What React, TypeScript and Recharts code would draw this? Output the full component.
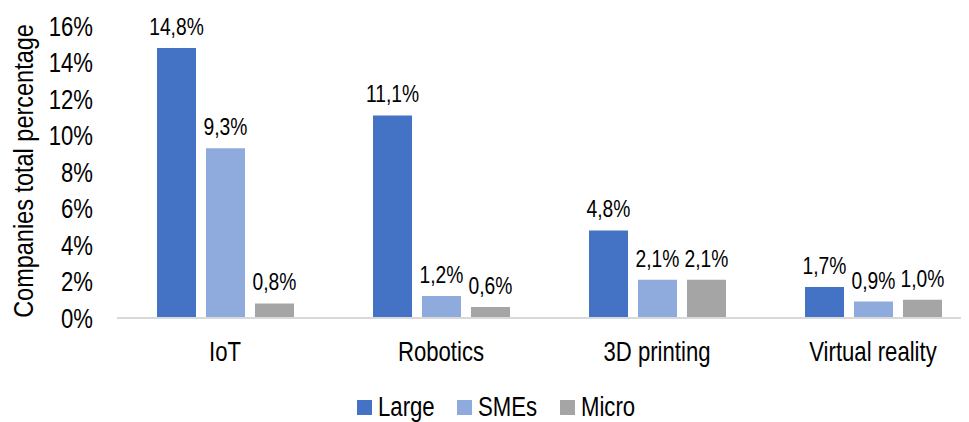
import React from 'react';
import { BarChart, Bar, XAxis, YAxis, LabelList } from 'recharts';

const categories = ['IoT', 'Robotics', '3D printing', 'Virtual reality'];
const large = [14.8, 11.1, 4.8, 1.7];
const smes = [9.3, 1.2, 2.1, 0.9];
const micro = [0.8, 0.6, 2.1, 1.0];
const yTicks = [0, 2, 4, 6, 8, 10, 12, 14, 16];
const yTitle = 'Companies total percentage';

const seriesInfo = [
  { key: 'large', name: 'Large', color: '#4472C4' },
  { key: 'smes', name: 'SMEs', color: '#8FAADC' },
  { key: 'micro', name: 'Micro', color: '#A5A5A5' },
];

const data = categories.map((c, i) => ({ category: c, large: large[i], smes: smes[i], micro: micro[i] }));

const FONT = '"Liberation Sans", Arial, sans-serif';
const SX = 0.82;
const TITLE_SX = 0.87;
const TICK_FS = 27;
const LABEL_FS = 23.5;
const fmt = (v: number) => v.toFixed(1).replace('.', ',') + '%';

const YTick = (props: any) => {
  const { x, y, payload } = props;
  return (
    <text
      transform={`translate(${x},${y}) scale(${SX},1)`}
      textAnchor="end"
      dy="0.355em"
      fill="#000"
      fontSize={TICK_FS}
      fontFamily={FONT}
    >
      {`${payload.value}%`}
    </text>
  );
};

const XTick = (props: any) => {
  const { x, y, payload } = props;
  return (
    <text
      transform={`translate(${x},${y + 43}) scale(${SX},1)`}
      textAnchor="middle"
      fill="#000"
      fontSize={TICK_FS}
      fontFamily={FONT}
    >
      {payload.value}
    </text>
  );
};

const YTitle = (props: any) => {
  const vb = props.viewBox || { x: 0, y: 0, width: 0, height: 0 };
  const cx = vb.x + 25;
  const cy = vb.y + vb.height / 2 - 1;
  return (
    <text
      transform={`translate(${cx},${cy}) rotate(-90) scale(${TITLE_SX},1)`}
      textAnchor="middle"
      fill="#000"
      fontSize={TICK_FS}
      fontFamily={FONT}
    >
      {yTitle}
    </text>
  );
};

const ValueLabel = (props: any) => {
  const { x, y, width, value } = props;
  return (
    <text
      transform={`translate(${x + width / 2},${y - 13}) scale(${SX},1)`}
      textAnchor="middle"
      fill="#000"
      fontSize={LABEL_FS}
      fontFamily={FONT}
    >
      {fmt(value)}
    </text>
  );
};

const legendPos = [
  { sq: 349, tx: 370 },
  { sq: 449, tx: 470 },
  { sq: 552, tx: 573 },
];

export default function App() {
  return (
    <div style={{ width: 961, height: 414, overflow: 'hidden', position: 'relative' }}>
      <BarChart
        width={983}
        height={414}
        data={data}
        margin={{ top: 18, right: 10, left: 0, bottom: 54 }}
        barSize={39}
        barGap={10}
      >
        <XAxis
          dataKey="category"
          axisLine={{ stroke: '#D9D9D9', strokeWidth: 2 }}
          tickLine={false}
          tickSize={0}
          tickMargin={0}
          height={50}
          tick={<XTick />}
          interval={0}
        />
        <YAxis
          width={109}
          domain={[0, 16]}
          ticks={yTicks}
          interval={0}
          axisLine={false}
          tickLine={false}
          tickSize={0}
          tickMargin={24}
          tick={<YTick />}
          label={<YTitle />}
        />
        {seriesInfo.map((s) => (
          <Bar key={s.key} dataKey={s.key} name={s.name} fill={s.color} isAnimationActive={false}>
            <LabelList dataKey={s.key} content={<ValueLabel />} />
          </Bar>
        ))}
      </BarChart>
      {seriesInfo.map((s, i) => (
        <React.Fragment key={s.key}>
          <div
            style={{
              position: 'absolute',
              left: legendPos[i].sq,
              top: 392,
              width: 15,
              height: 15,
              background: s.color,
            }}
          />
          <span
            style={{
              position: 'absolute',
              left: legendPos[i].tx,
              top: 386,
              fontFamily: FONT,
              fontSize: TICK_FS,
              lineHeight: 1,
              color: '#000',
              whiteSpace: 'nowrap',
              transform: `scaleX(${SX})`,
              transformOrigin: 'left center',
            }}
          >
            {s.name}
          </span>
        </React.Fragment>
      ))}
    </div>
  );
}
